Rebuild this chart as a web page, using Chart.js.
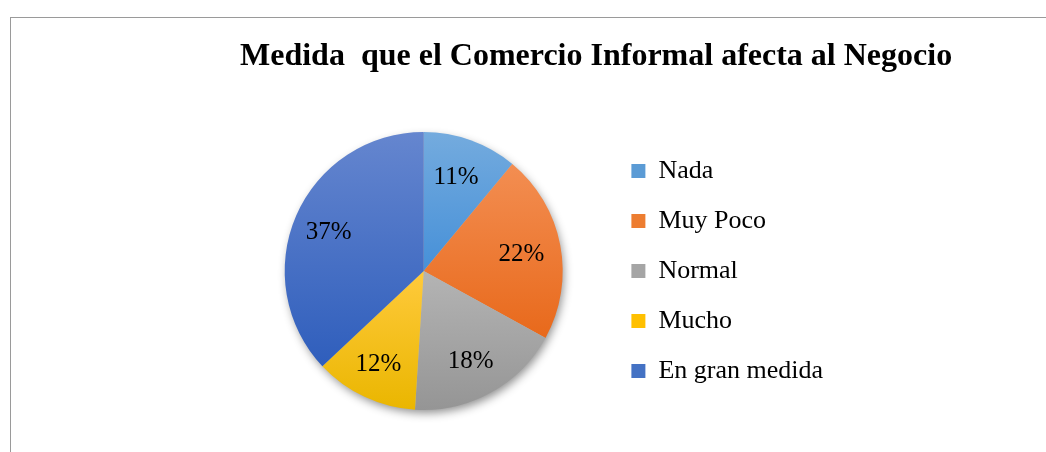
<!DOCTYPE html>
<html>
<head>
<meta charset="utf-8">
<script src="https://cdn.jsdelivr.net/npm/chart.js@4"></script>
<style>
  html, body { margin: 0; padding: 0; background: #fff; }
  #wrap { position: relative; width: 1046px; height: 452px; overflow: hidden; background: #fff; }
  #frame { position: absolute; left: 10px; top: 17px; width: 1100px; height: 500px;
           border-left: 1px solid #9a9a9a; border-top: 1px solid #9a9a9a; }
  #c { position: absolute; left: 0; top: 0; }
</style>
</head>
<body>
<div id="wrap">
  <div id="frame"></div>
  <canvas id="c" width="1046" height="452"></canvas>
</div>
<script>
const titleText = 'Medida  que el Comercio Informal afecta al Negocio';
const categories = ['Nada', 'Muy Poco', 'Normal', 'Mucho', 'En gran medida'];
const percentages = [11, 22, 18, 12, 37];
const colorsTop = ['#74ABDE', '#F38E52', '#B4B4B4', '#FFCA3C', '#6586CF'];
const colorsBottom = ['#4690D8', '#E8691B', '#959595', '#EAB600', '#2F5EBC'];
const colorsLegend = ['#5B9BD5', '#ED7D31', '#A5A5A5', '#FFC000', '#4472C4'];

const SERIF = "'Liberation Serif', 'Times New Roman', serif";

function sliceFill(context) {
  const chart = context.chart;
  const i = context.dataIndex;
  const area = chart.chartArea;
  if (!area || context.type !== 'data') return colorsLegend[i];
  const cx = (area.left + area.right) / 2;
  const cy = (area.top + area.bottom) / 2;
  const r = Math.min(area.right - area.left, area.bottom - area.top) / 2;
  const total = percentages.reduce((a, b) => a + b, 0);
  let before = 0;
  for (let k = 0; k < i; k++) before += percentages[k];
  const a0 = -Math.PI / 2 + before / total * Math.PI * 2;
  const a1 = a0 + percentages[i] / total * Math.PI * 2;
  let ys = [cy, cy + r * Math.sin(a0), cy + r * Math.sin(a1)];
  for (let k = -2; k <= 4; k++) {
    const ang = -Math.PI / 2 + k * Math.PI;
    if (ang > a0 && ang < a1) ys.push(cy + r * Math.sin(ang));
  }
  const top = Math.min(...ys), bottom = Math.max(...ys);
  const g = chart.ctx.createLinearGradient(0, top, 0, bottom);
  g.addColorStop(0, colorsTop[i]);
  g.addColorStop(1, colorsBottom[i]);
  return g;
}

// let the title run past the legend's right edge (it is left-aligned above the pie)
const titleWidthPlugin = {
  id: 'titleWidth',
  afterLayout(chart) {
    if (chart.titleBlock) {
      chart.titleBlock.right = chart.width - 40;
      chart.titleBlock.width = chart.titleBlock.right - chart.titleBlock.left;
    }
  }
};

const shadowPlugin = {
  id: 'pieShadow',
  beforeDatasetsDraw(chart) {
    const arc = chart.getDatasetMeta(0).data[0];
    if (!arc) return;
    const {x, y, outerRadius} = arc.getProps(['x', 'y', 'outerRadius'], true);
    const ctx = chart.ctx;
    ctx.save();
    ctx.shadowColor = 'rgba(0,0,0,0.45)';
    ctx.shadowBlur = 10;
    ctx.shadowOffsetX = 2;
    ctx.shadowOffsetY = 4;
    ctx.fillStyle = '#bbbbbb';
    ctx.beginPath();
    ctx.arc(x, y, outerRadius - 1, 0, Math.PI * 2);
    ctx.fill();
    ctx.restore();
  }
};

const labelPlugin = {
  id: 'sliceLabels',
  afterDatasetsDraw(chart) {
    const ctx = chart.ctx;
    const meta = chart.getDatasetMeta(0);
    ctx.save();
    ctx.font = '25px ' + SERIF;
    ctx.fillStyle = '#000';
    ctx.textAlign = 'center';
    ctx.textBaseline = 'middle';
    meta.data.forEach((arc, i) => {
      const p = arc.getProps(['x', 'y', 'startAngle', 'endAngle', 'outerRadius'], true);
      const mid = (p.startAngle + p.endAngle) / 2;
      const d = p.outerRadius * 0.73;
      ctx.fillText(percentages[i] + '%', p.x + Math.cos(mid) * d - 2, p.y + Math.sin(mid) * d + 2);
    });
    ctx.restore();
  }
};

new Chart(document.getElementById('c'), {
  type: 'pie',
  data: {
    labels: categories,
    datasets: [{
      data: percentages,
      backgroundColor: sliceFill,
      borderWidth: 0
    }]
  },
  options: {
    responsive: false,
    animation: false,
    events: [],
    layout: { padding: { left: 240, right: 213, top: 0, bottom: 42 } },
    plugins: {
      tooltip: { enabled: false },
      title: {
        display: true,
        text: titleText,
        align: 'start',
        color: '#000',
        font: { family: SERIF, size: 32, weight: 'bold', lineHeight: 1.2 },
        padding: { top: 37.5, bottom: 56.1 }
      },
      legend: {
        position: 'right',
        align: 'center',
        fullSize: false,
        labels: {
          color: '#000',
          font: { family: SERIF, size: 26 },
          boxWidth: 14,
          boxHeight: 14,
          padding: 24,
          generateLabels(chart) {
            const items = Chart.overrides.pie.plugins.legend.labels.generateLabels(chart);
            items.forEach((it, i) => { it.fillStyle = colorsLegend[i]; it.strokeStyle = colorsLegend[i]; it.lineWidth = 0; });
            return items;
          }
        }
      }
    }
  },
  plugins: [titleWidthPlugin, shadowPlugin, labelPlugin]
});
</script>
</body>
</html>
